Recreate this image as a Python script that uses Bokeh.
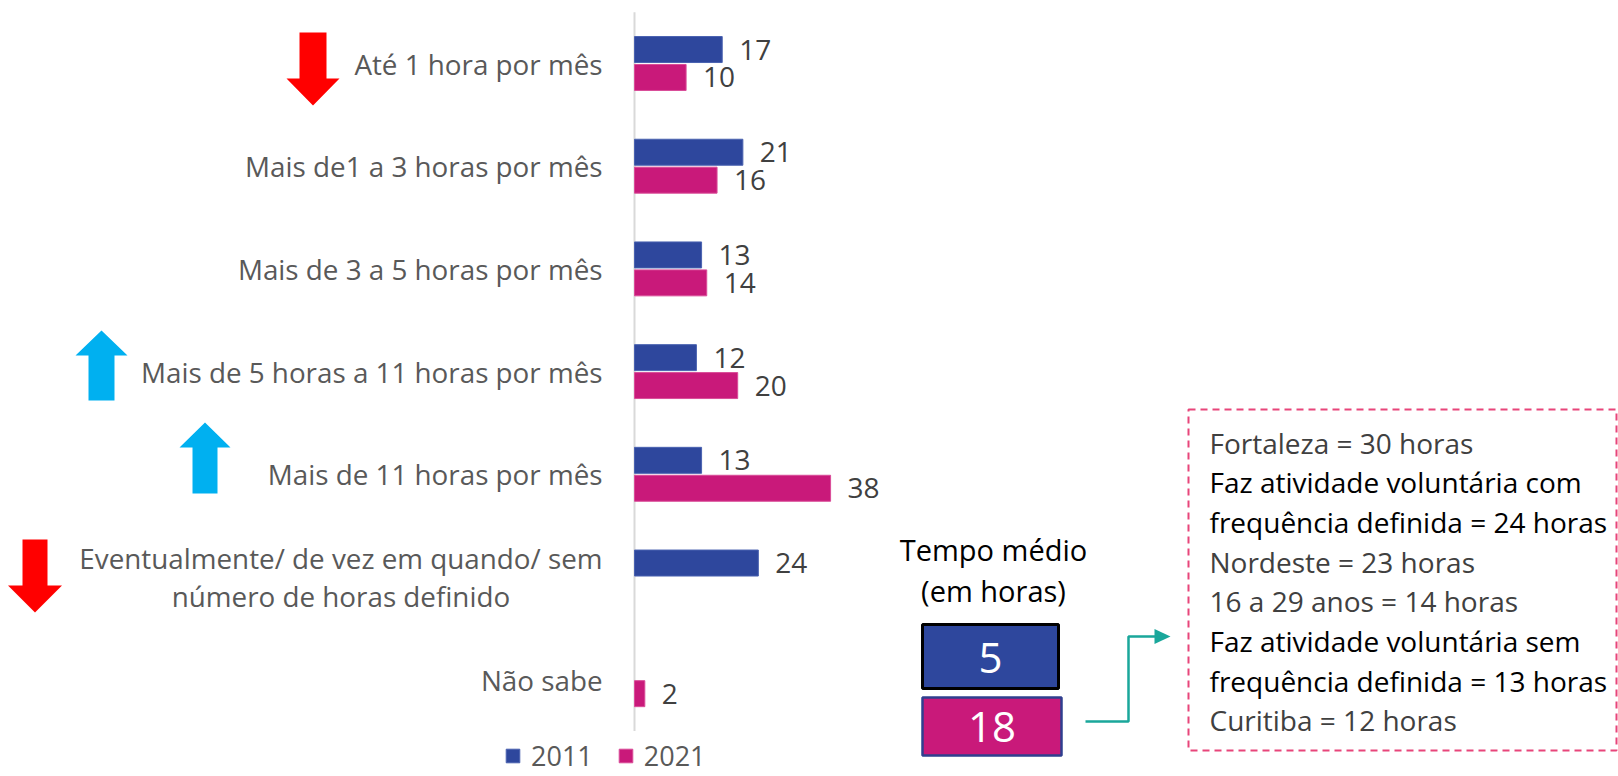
from bokeh.plotting import figure
from bokeh.models import ColumnDataSource, Range1d, Legend, LegendItem
from bokeh.transform import dodge
from bokeh.core.properties import value
from bokeh.embed import file_html
from bokeh.resources import INLINE

# ---------------- data ----------------
categories = [
    "Até 1 hora por mês",
    "Mais de1 a 3 horas por mês",
    "Mais de 3 a 5 horas por mês",
    "Mais de 5 horas a 11 horas por mês",
    "Mais de 11 horas por mês",
    "Eventualmente/ de vez em quando/ sem\nnúmero de horas definido",
    "Não sabe",
]
series_names = ["2011", "2021"]
values_2011 = [17, 21, 13, 12, 13, 24, None]
values_2021 = [10, 16, 14, 20, 38, None, 2]

# change indicators next to categories (category index, direction)
trend_marks = [(0, "down"), (3, "up"), (4, "up"), (5, "down")]

mean_title = "Tempo médio\n(em horas)"
mean_hours = [5, 18]

note_lines = [
    "Fortaleza = 30 horas",
    "Faz atividade voluntária com",
    "frequência definida = 24 horas",
    "Nordeste = 23 horas",
    "16 a 29 anos = 14 horas",
    "Faz atividade voluntária sem",
    "frequência definida = 13 horas",
    "Curitiba = 12 horas",
]
note_emphasis = [False, True, True, False, False, True, True, False]

# ---------------- styles / layout ----------------
W, H = 1618, 776
AXIS_X = 634          # pixel position of value 0
K = 5.16              # pixels per unit
TOP_C = 63            # pixel centre of first category
U = 102.7             # pixels per category band
SH = 8                # offset of the decoration pixel grid
BLUE = "#2E479D"
PINK = "#C9197A"
RED = "#FF0000"
SKY = "#00B0F0"
TEAL = "#1AA79B"
DASHC = "#E8457A"
FONT = "Open Sans"

nan = float("nan")
src = ColumnDataSource(dict(
    cat=categories,
    idx=list(range(len(categories))),
    v2011=[nan if v is None else v for v in values_2011],
    v2021=[nan if v is None else v for v in values_2021],
    l2011=["" if v is None else str(v) for v in values_2011],
    l2021=["" if v is None else str(v) for v in values_2021],
))

p = figure(width=W, height=H, output_backend="svg", toolbar_location=None,
           x_range=Range1d(-AXIS_X / K, (W - AXIS_X) / K),
           y_range=Range1d((H - TOP_C) / U, -TOP_C / U),
           x_axis_type=None, y_axis_type=None, min_border=0,
           outline_line_color=None)
p.xgrid.visible = False
p.ygrid.visible = False
p.extra_x_ranges = {"px": Range1d(-SH, W - SH)}
p.extra_y_ranges = {"py": Range1d(H - SH, -SH)}
PX = dict(x_range_name="px", y_range_name="py")

OFF = 0.136
BH = 0.253

# category axis line
p.segment(x0=0, x1=0, y0=-0.5, y1=len(categories) - 0.5, line_color="#D9D9D9", line_width=2)

r1 = p.hbar(y=dodge("idx", -OFF), left=0, right="v2011", height=BH, source=src,
            fill_color=BLUE, line_color="#4A62B0", line_width=1)
r2 = p.hbar(y=dodge("idx", OFF), left=0, right="v2021", height=BH, source=src,
            fill_color=PINK, line_color="#D94C98", line_width=1)

lab_style = dict(text_font=value(FONT), text_font_size="28px", text_color="#404040",
                 text_baseline="middle", x_offset=17)
p.text(x="v2011", y=dodge("idx", -OFF), text="l2011", source=src, **lab_style)
p.text(x="v2021", y=dodge("idx", OFF), text="l2021", source=src, **lab_style)

# category labels
p.text(x=0, y="idx", text="cat", source=src, x_offset=-32, anchor="center_right",
       text_align="center", text_baseline="middle", text_line_height=1.0,
       text_font=value(FONT), text_font_size="27.8px", text_color="#595959")

# trend arrows (pixel geometry)
arrow_geom = {0: (304.5, 24, 97, 27, 53, 27),
              3: (93, 392, 322, 26, 52, 25),
              4: (196.5, 485, 414, 25, 51, 25),
              5: (26.5, 531, 604, 25, 54, 27)}
axs, ays, acol = [], [], []
for ci, d in trend_marks:
    cx, tail, tip, sw, hw, hl = arrow_geom[ci]
    s = 1 if tip > tail else -1
    base = tip - s * hl
    axs.append([cx - sw / 2, cx + sw / 2, cx + sw / 2, cx + hw / 2, cx, cx - hw / 2, cx - sw / 2])
    ays.append([tail, tail, base, base, tip, base, base])
    acol.append(RED if d == "down" else SKY)
p.patches(axs, ays, fill_color=acol, line_color=None, **PX)

# legend
legend = Legend(items=[LegendItem(label=series_names[0], renderers=[r1]),
                       LegendItem(label=series_names[1], renderers=[r2])],
                orientation="horizontal", location=(504, 2),
                glyph_width=17, glyph_height=17, label_standoff=10, spacing=24,
                padding=0, margin=0, border_line_alpha=0, background_fill_alpha=0,
                label_text_font=FONT, label_text_font_size="27px",
                label_text_color="#595959", label_text_baseline="middle")
p.add_layout(legend)

# mean time panel
p.text(x=[985], y=[561.5], text=[mean_title], text_align="center", text_baseline="middle",
       text_line_height=1.04, text_font=value(FONT), text_font_size="29px",
       text_color="#000000", **PX)
p.quad(left=[914], right=[1050], top=[616], bottom=[680], fill_color=BLUE,
       line_color="#000000", line_width=3, **PX)
p.quad(left=[914], right=[1053], top=[689], bottom=[747], fill_color=PINK,
       line_color="#2F3F8F", line_width=2.5, **PX)
p.text(x=[982, 983.5], y=[649, 718], text=[str(v) for v in mean_hours],
       text_align="center", text_baseline="middle", text_font=value(FONT),
       text_font_size="42px", text_color="#FFFFFF", **PX)

# connector
p.line(x=[1077, 1120, 1120, 1148], y=[713, 713, 628, 628], line_color=TEAL, line_width=2.5, **PX)
p.patch(x=[1146, 1162, 1146], y=[620.5, 628, 635.5], fill_color=TEAL, line_color=None, **PX)

# notes box
p.quad(left=[1180], right=[1608], top=[401], bottom=[742], fill_alpha=0,
       line_color=DASHC, line_width=2, line_dash="7 5", **PX)
p.text(x=[1201] * len(note_lines), y=[434 + 39.7 * i for i in range(len(note_lines))],
       text=note_lines, text_baseline="middle", text_font=value(FONT), text_font_size="28px",
       text_color=["#000000" if e else "#404040" for e in note_emphasis], **PX)

open("out.html", "w").write(file_html(p, INLINE))
